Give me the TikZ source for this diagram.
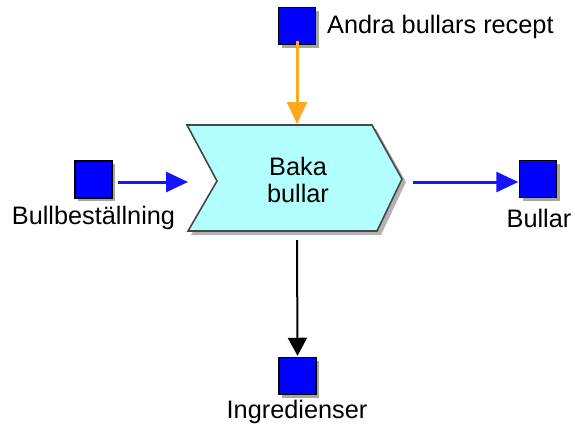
\documentclass[tikz,border=0pt]{standalone}
\usepackage{fontspec}
\setmainfont{Liberation Sans}
\usetikzlibrary{arrows.meta}
\definecolor{procfill}{RGB}{178,255,255}
\definecolor{procedge}{RGB}{70,70,70}
\definecolor{objblue}{RGB}{0,0,255}
\definecolor{arrorange}{RGB}{255,170,30}
\definecolor{arrblue}{RGB}{20,20,255}
\tikzset{
  lbl/.style={font=\fontsize{25.3}{27}\selectfont, inner sep=0pt},
  obj/.style={draw=black, line width=1.5pt, fill=objblue, minimum size=37pt, inner sep=0pt},
  objshadow/.style={fill=black!35, minimum size=37pt, inner sep=0pt},
  flow/.style={line width=3pt, -{Triangle[length=22pt,width=20pt]}},
}
\begin{document}
\begin{tikzpicture}[x=1pt,y=-1pt]
\useasboundingbox (0,0) rectangle (575,432);
% chevron shadow and body
\fill[black!30] (190,129) -- (376,129) -- (406,182) -- (381,235) -- (191,235) -- (220,185) -- cycle;
\draw[procedge, line width=1.6pt, fill=procfill] (187,125) -- (372,125) -- (402,179) -- (377,231) -- (188,231) -- (217,181) -- cycle;
\node[lbl, align=center] (p) at (298,180) {Baka\\bullar};
% objects
\node[objshadow] at (300,29) {};
\node[obj] (andra) at (297,26) {};
\node[lbl, anchor=west] (andralbl) at (327,27) {Andra bullars recept};
\node[objshadow] at (96,182) {};
\node[obj] (best) at (93.5,179.5) {};
\node[lbl] (bestlbl) at (93.5,218) {Bullbeställning};
\node[objshadow] at (541,182) {};
\node[obj] (bullar) at (538,179) {};
\node[lbl] (bullarlbl) at (539,218) {Bullar};
\node[objshadow] at (300,379) {};
\node[obj] (ingr) at (297.5,376) {};
\node[lbl] (ingrlbl) at (297,412) {Ingredienser};
% connector anchors on the chevron
\coordinate (ptop) at (297,124);
\coordinate (pleft) at (188,182);
\coordinate (pright) at (413,182);
\coordinate (pbot) at (297,240);
% connectors
\draw[flow, arrorange] ([yshift=4pt]andra.south) -- (ptop);
\draw[flow, arrblue] ([xshift=5pt]best.east |- pleft) -- (pleft);
\draw[flow, arrblue] (pright) -- ([xshift=-0.5pt]bullar.west |- pright);
\draw[black, line width=2pt, -{Triangle[length=18pt,width=19pt]}] (pbot) -- ([yshift=1pt]ingr.north);
\end{tikzpicture}
\end{document}
